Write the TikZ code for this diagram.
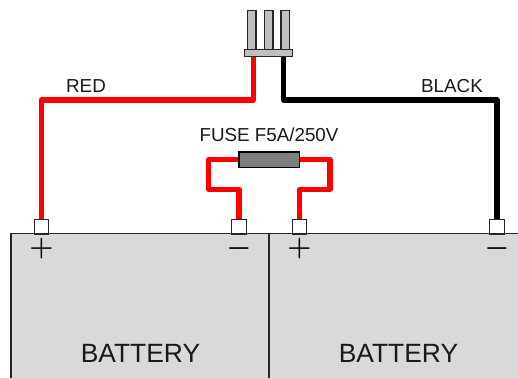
\documentclass[tikz,border=0pt]{standalone}
\usepackage{fontspec}
\setmainfont{Liberation Sans}
\usetikzlibrary{positioning}
\definecolor{wirered}{RGB}{255,0,0}
\definecolor{batgray}{RGB}{217,217,217}
\definecolor{pingray}{RGB}{191,191,191}
\definecolor{fusegray}{RGB}{127,127,127}
\tikzset{>=latex}
\begin{document}
\begin{tikzpicture}[x=.75pt,y=-.75pt]
    \tikzset{
      label/.style={inner sep=0pt, font=\fontsize{14.1}{16}\selectfont, text=black!90},
      batlabel/.style={inner sep=0pt, font=\fontsize{19.8}{22}\selectfont, text=black!90},
      sign/.style={inner sep=0pt, font=\fontsize{20}{22}\selectfont\boldmath},
      battery/.style={draw=black!85, fill=batgray, line width=.9pt, inner sep=0pt, minimum width=193.5pt, minimum height=125pt},
      terminal/.style={draw=black!85, fill=white, line width=.9pt, inner sep=0pt, minimum size=11pt},
      pin/.style={draw=black!85, fill=pingray, line width=1pt, inner sep=0pt, minimum width=6.6pt, minimum height=29.5pt},
      wire/.style={line width=4.1pt, line join=round},
    }
    \useasboundingbox (0,0) rectangle (518,378);
    \clip (0,0) rectangle (518,378);

    % Batteries.
    \node [battery] (batl) at (140,317) {};
    \node [battery] (batr) at (398.5,317) {};
    \node [batlabel] (batltext) at (140.5,353) {BATTERY};
    \node [batlabel] (batrtext) at (398.5,353) {BATTERY};

    % Terminals and their signs.
    \node [terminal] (ta) at (41.5,226.7) {};
    \node [terminal] (tb) at (239,226.7) {};
    \node [terminal] (tc) at (299.5,226.7) {};
    \node [terminal] (td) at (497,226.7) {};
    \node [sign] (sa) at (41.5,249) {$+$};
    \node [sign] (sb) at (239,249) {$-$};
    \node [sign] (sc) at (299.5,249) {$+$};
    \node [sign] (sd) at (497,249) {$-$};

    % Plug.
    \node [pin] (pa) at (251.7,30.5) {};
    \node [pin] (pb) at (268.7,30.5) {};
    \node [pin] (pc) at (285.3,30.5) {};
    \node [draw=black!85, fill=pingray, line width=1pt, inner sep=0pt, minimum width=36pt, minimum height=4.8pt] (plug) at (268.5,53) {};

    % Fuse.
    \node [draw=black, fill=fusegray, line width=1pt, inner sep=0pt, minimum width=45.5pt, minimum height=11.5pt] (fuse) at (269.2,159.7) {};
    \node [label] (fusetext) at (269,135) {FUSE F5A/250V};

    % Corners of the wires.
    \coordinate (ra) at (41.5,100);
    \coordinate (rb) at (253.5,100);
    \coordinate (ka) at (283.7,100);
    \coordinate (kb) at (497,100);
    \coordinate (fa) at (208.7,159.7);
    \coordinate (fb) at (208.7,189.3);
    \coordinate (fc) at (239,189.3);
    \coordinate (fd) at (330,159.7);
    \coordinate (fe) at (330,189.3);
    \coordinate (ff) at (299.5,189.3);

    % Wires.
    \draw [wire, wirered] (ta.north) -- (ra) -- (rb) -- (rb |- plug.south);
    \draw [wire, black] (td.north) -- (kb) -- (ka) -- (ka |- plug.south);
    \draw [wire, wirered] (fuse.west) -- (fa) -- (fb) -- (fc) -- (tb.north);
    \draw [wire, wirered] (fuse.east) -- (fd) -- (fe) -- (ff) -- (tc.north);
    \node [label] (redtext) at (86,86) {RED};
    \node [label] (blacktext) at (452,86) {BLACK};
\end{tikzpicture}
\end{document}
